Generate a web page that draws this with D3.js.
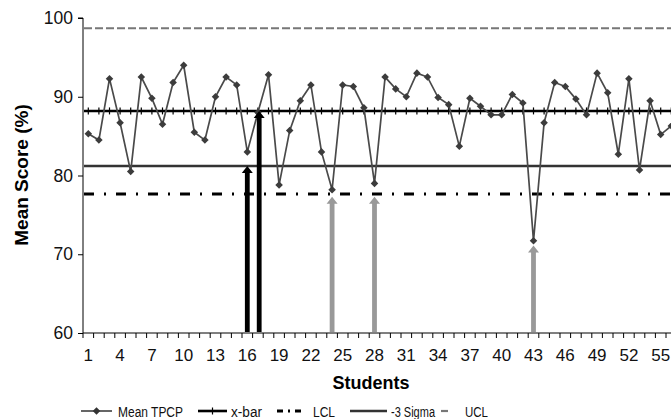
<!DOCTYPE html>
<html><head><meta charset="utf-8">
<script src="https://cdn.jsdelivr.net/npm/d3@7/dist/d3.min.js"></script>
<style>body{margin:0;background:#fff}svg{display:block;font-family:"Liberation Sans",Arial,sans-serif}</style>
</head><body><svg id="c" width="671" height="419"></svg>
<script>
const students = d3.range(1, 58);
const meanTPCP = [85.3, 84.5, 92.3, 86.7, 80.5, 92.5, 89.8, 86.5, 91.8, 94.0,
  85.5, 84.5, 90.0, 92.5, 91.5, 83.0, 88.0, 92.8, 78.8, 85.7,
  89.5, 91.5, 83.0, 78.2, 91.5, 91.3, 88.6, 79.0, 92.5, 91.0,
  90.0, 93.0, 92.5, 89.9, 89.0, 83.7, 89.8, 88.8, 87.7, 87.7,
  90.3, 89.2, 71.7, 86.7, 91.8, 91.3, 89.7, 87.7, 93.0, 90.5,
  82.7, 92.3, 80.7, 89.5, 85.2, 86.3];
const xbar = 88.2, lcl = 77.65, minus3Sigma = 81.2, ucl = 98.7;
const yTicks = [60, 70, 80, 90, 100];
const xLabels = d3.range(1, 56, 3);
const blackArrows = [{s: 16, top: 81.2}, {s: 17, top: 88.2}];
const grayArrows = [{s: 24, top: 77.3}, {s: 28, top: 77.3}, {s: 43, top: 71.1}];
const legendLabels = ["Mean TPCP", "x-bar", "LCL", "-3 Sigma", "UCL"];

const svg = d3.select("#c");
const left = 83, bw = 10.6;
const x = d3.scaleBand().domain(students).range([left, left + students.length * bw]).padding(0);
const cx = s => x(s) + x.bandwidth() / 2;
const y = d3.scaleLinear().domain([60, 100]).range([333, 18]);
const right = 671;

// Y axis
const yAxis = d3.axisLeft(y).tickValues(yTicks).tickSize(5).tickPadding(5);
const ya = svg.append("g").attr("transform", `translate(${left},0)`).call(yAxis);
ya.select(".domain").attr("stroke", "#000").attr("stroke-width", 1).attr("d", `M-5,${y(100)}H0V${y(60)}`);
ya.selectAll(".tick line").attr("stroke", "#000");
ya.selectAll(".tick text").attr("font-size", 17.5).attr("fill", "#111").attr("font-family", "Liberation Sans, Arial, sans-serif");

// X axis
const xa = svg.append("g").attr("transform", `translate(0,${y(60)})`);
xa.append("line").attr("x1", left).attr("x2", right).attr("stroke", "#000").attr("stroke-width", 1);
xa.selectAll("line.tk").data(students.concat([58])).join("line").attr("class", "tk")
  .attr("x1", d => left + (d - 1) * bw).attr("x2", d => left + (d - 1) * bw)
  .attr("y1", 0).attr("y2", 5).attr("stroke", "#000");
xa.selectAll("text").data(xLabels).join("text")
  .attr("x", d => cx(d)).attr("y", 28).attr("text-anchor", "middle")
  .attr("font-size", 17).attr("fill", "#111").text(d => d);

// Axis titles
svg.append("text").attr("x", 371).attr("y", 389).attr("text-anchor", "middle")
  .attr("font-size", 18).attr("font-weight", "bold").text("Students");
svg.append("text").attr("transform", "translate(28,175) rotate(-90)").attr("text-anchor", "middle")
  .attr("font-size", 19).attr("font-weight", "bold").text("Mean Score (%)");

// reference lines
const plot = svg.append("g");
plot.append("line").attr("x1", left + 1).attr("x2", right).attr("y1", y(ucl)).attr("y2", y(ucl))
  .attr("stroke", "#777").attr("stroke-width", 2.2).attr("stroke-dasharray", "8,3");
plot.append("line").attr("x1", left + 1).attr("x2", right).attr("y1", y(minus3Sigma)).attr("y2", y(minus3Sigma))
  .attr("stroke", "#333").attr("stroke-width", 2.6);
plot.append("line").attr("x1", left + 1).attr("x2", right).attr("y1", y(lcl)).attr("y2", y(lcl))
  .attr("stroke", "#000").attr("stroke-width", 3).attr("stroke-dasharray", "10,10,2,10");
plot.append("line").attr("x1", left + 1).attr("x2", right).attr("y1", y(xbar)).attr("y2", y(xbar))
  .attr("stroke", "#000").attr("stroke-width", 2.6);
plot.selectAll("line.xb").data(students).join("line").attr("class", "xb")
  .attr("x1", d => cx(d)).attr("x2", d => cx(d))
  .attr("y1", y(xbar) - 3.5).attr("y2", y(xbar) + 3.5).attr("stroke", "#000").attr("stroke-width", 1.2);

// data line
const line = d3.line().x((d, i) => cx(students[i])).y(d => y(d));
plot.append("path").datum(meanTPCP).attr("d", line).attr("fill", "none")
  .attr("stroke", "#4a4a4a").attr("stroke-width", 1.7);
const diamond = d3.symbol().type(d3.symbolDiamond2).size(36);
plot.selectAll("path.pt").data(meanTPCP).join("path").attr("class", "pt")
  .attr("transform", (d, i) => `translate(${cx(students[i])},${y(d)})`)
  .attr("d", diamond).attr("fill", "#3c3c3c");

// arrows
function arrowPath(s, top, dx) {
  const c = cx(s) + (dx || 0), yt = y(top), yb = y(60) - 1;
  const sw = 2.4, hw = 5.5, hh = 7;
  return `M${c - sw},${yb}V${yt + hh}H${c - hw}L${c},${yt}L${c + hw},${yt + hh}H${c + sw}V${yb}Z`;
}
plot.selectAll("path.ga").data(grayArrows).join("path").attr("class", "ga")
  .attr("d", d => arrowPath(d.s, d.top)).attr("fill", "#999");
plot.selectAll("path.ba").data(blackArrows).join("path").attr("class", "ba")
  .attr("d", (d, i) => arrowPath(d.s, d.top, i ? 1.3 : 0)).attr("fill", "#000");

// legend
const lg = svg.append("g").attr("font-size", 15.5).attr("fill", "#111");
const ly = 411;
lg.append("line").attr("x1", 81).attr("x2", 112).attr("y1", ly).attr("y2", ly).attr("stroke", "#333").attr("stroke-width", 1.5);
lg.append("path").attr("transform", `translate(96.5,${ly})`).attr("d", diamond).attr("fill", "#333");
lg.append("line").attr("x1", 198).attr("x2", 227).attr("y1", ly).attr("y2", ly).attr("stroke", "#000").attr("stroke-width", 2.6);
lg.append("line").attr("x1", 212.5).attr("x2", 212.5).attr("y1", ly - 3.5).attr("y2", ly + 3.5).attr("stroke", "#000").attr("stroke-width", 1.2);
lg.append("line").attr("x1", 277).attr("x2", 304).attr("y1", ly).attr("y2", ly).attr("stroke", "#000").attr("stroke-width", 3).attr("stroke-dasharray", "6,5,2,5");
lg.append("line").attr("x1", 350).attr("x2", 387).attr("y1", ly).attr("y2", ly).attr("stroke", "#333").attr("stroke-width", 2.6);
lg.append("line").attr("x1", 441).attr("x2", 448).attr("y1", ly).attr("y2", ly).attr("stroke", "#777").attr("stroke-width", 2.2);
const legendX = [118, 231, 313, 391, 465];
const legendW = [65, 31, 22, 44, 23];
lg.selectAll("text").data(legendLabels).join("text")
  .attr("x", (d, i) => legendX[i]).attr("y", ly + 5.5)
  .attr("textLength", (d, i) => legendW[i]).attr("lengthAdjust", "spacingAndGlyphs")
  .text(d => d);
</script></body></html>
